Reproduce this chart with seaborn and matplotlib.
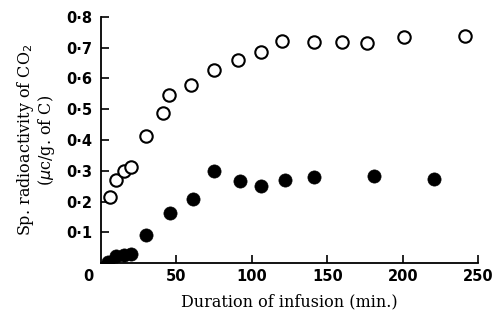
import pandas as pd
import matplotlib
matplotlib.use('Agg')
import matplotlib.pyplot as plt
import seaborn as sns

# open circles
open_x = [6, 10, 15, 20, 30, 41, 45, 60, 75, 91, 106, 120, 141, 160, 176, 201, 241]
open_y = [0.214, 0.27, 0.30, 0.312, 0.414, 0.488, 0.545, 0.578, 0.629, 0.661,
          0.686, 0.723, 0.72, 0.72, 0.716, 0.734, 0.739]

# filled circles
filled_x = [5, 10, 15, 20, 30, 46, 61, 75, 92, 106, 122, 141, 181, 221]
filled_y = [0.003, 0.022, 0.025, 0.030, 0.091, 0.162, 0.207, 0.30, 0.267, 0.252,
            0.27, 0.281, 0.284, 0.272]

x_ticks = [50, 100, 150, 200, 250]
y_ticks = [0.1, 0.2, 0.3, 0.4, 0.5, 0.6, 0.7, 0.8]

open_df = pd.DataFrame({'t': open_x, 'act': open_y})
filled_df = pd.DataFrame({'t': filled_x, 'act': filled_y})

sns.set_style('ticks')
plt.rcParams['font.family'] = ['DejaVu Serif']
plt.rcParams['text.color'] = 'black'
plt.rcParams['axes.labelcolor'] = 'black'
plt.rcParams['xtick.color'] = 'black'
plt.rcParams['ytick.color'] = 'black'

fig = plt.figure(figsize=(4.92, 3.2), dpi=100)
ax = fig.add_axes([0.205, 0.178, 0.767, 0.769])

sns.scatterplot(data=open_df, x='t', y='act', ax=ax, s=80, marker='o',
                facecolor='white', edgecolor='black', linewidth=1.5, zorder=3)
sns.scatterplot(data=filled_df, x='t', y='act', ax=ax, s=90, marker='o',
                color='black', edgecolor='black', linewidth=0.5, zorder=3)

ax.set_xlim(0, 250)
ax.set_ylim(0, 0.8)
ax.set_xticks(x_ticks)
ax.set_yticks(y_ticks)
ax.set_xticklabels([str(v) for v in x_ticks], family='DejaVu Sans',
                   fontweight='bold', fontsize=10.5)
ax.set_yticklabels([f'{v:.1f}'.replace('.', '·') for v in y_ticks],
                   family='DejaVu Sans', fontweight='bold', fontsize=10.5)
ax.tick_params(direction='in', length=6, width=1.2, color='black', pad=6)
ax.tick_params(axis='x', pad=4)

for side in ['top', 'right']:
    ax.spines[side].set_visible(False)
for side in ['left', 'bottom']:
    ax.spines[side].set_linewidth(1.3)
    ax.spines[side].set_color('black')

ax.annotate('0', xy=(0, 0), xytext=(-9, -10), textcoords='offset points',
            ha='center', va='center', family='DejaVu Sans',
            fontweight='bold', fontsize=10.5, annotation_clip=False)

ax.set_xlabel('Duration of infusion (min.)', fontsize=11.5, labelpad=7)
ax.set_ylabel('Sp. radioactivity of CO$_2$\n($\\mu$c/g. of C)', fontsize=11.5,
              labelpad=7, linespacing=0.95)

fig.savefig('out.png', dpi=100)
